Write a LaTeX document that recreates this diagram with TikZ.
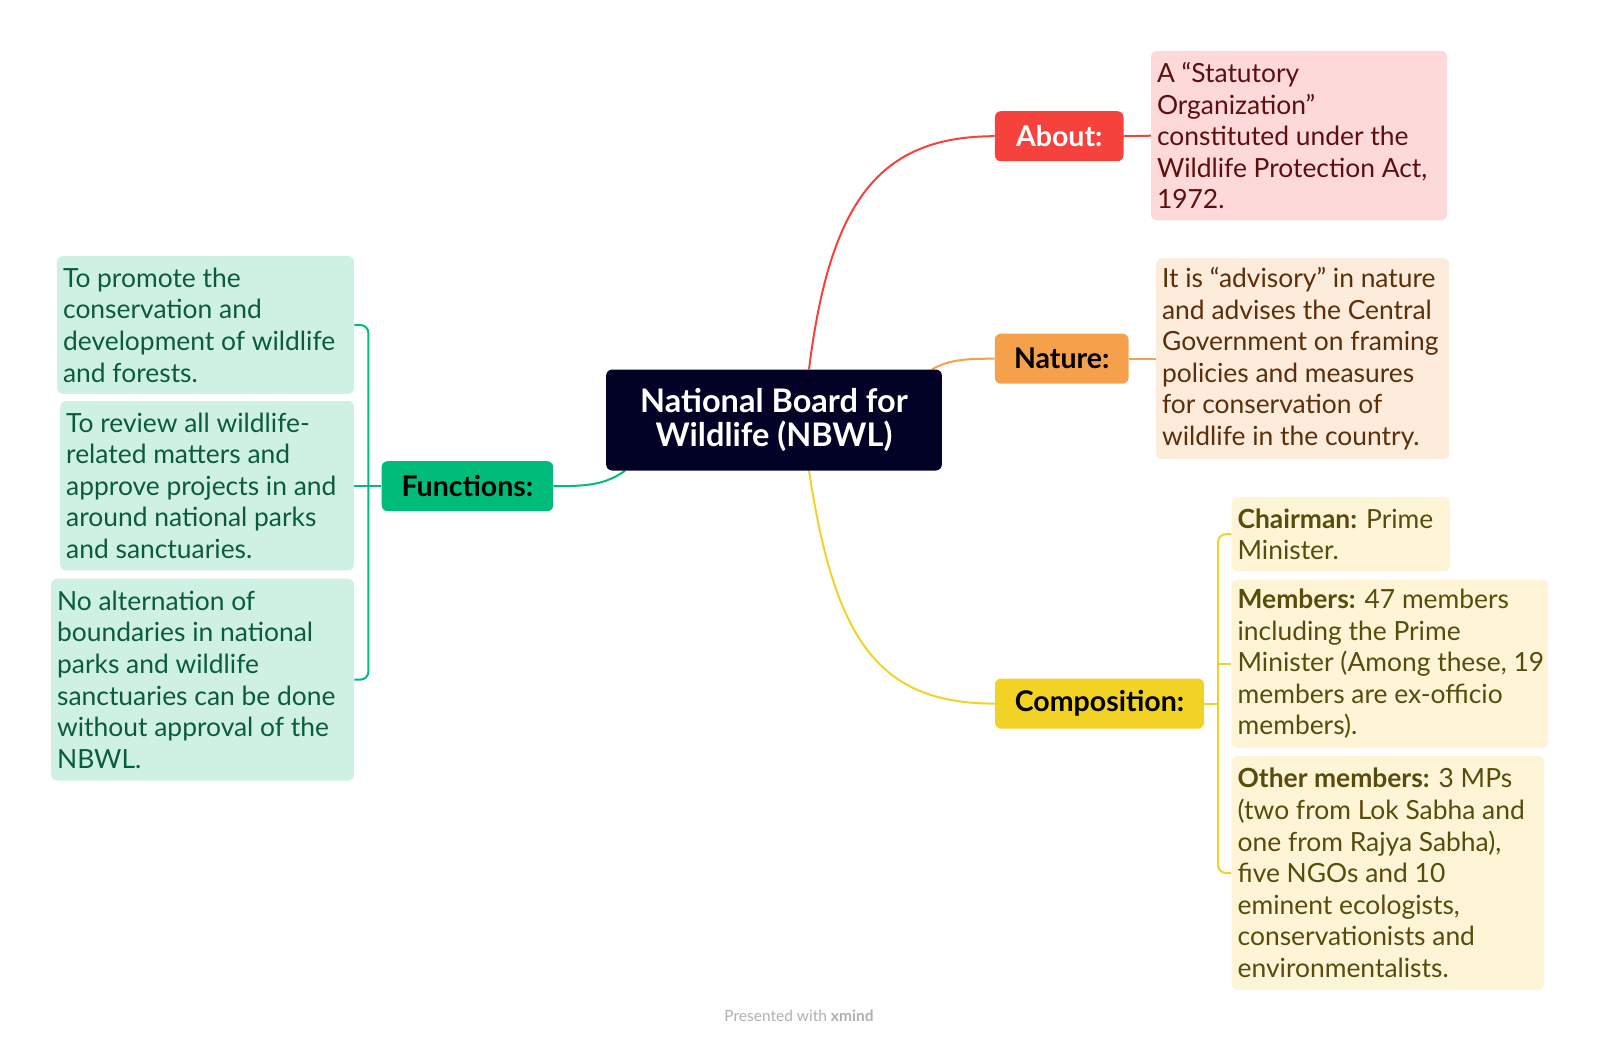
\documentclass[tikz,border=0pt]{standalone}
\usepackage{fontspec}
\setmainfont{Lato}
\usetikzlibrary{backgrounds}
\definecolor{cnavy}{HTML}{020226}
\definecolor{cred}{HTML}{F5423C}
\definecolor{cpink}{HTML}{FDD9D9}
\definecolor{credt}{HTML}{5C0F0F}
\definecolor{corange}{HTML}{F5A14B}
\definecolor{cpeach}{HTML}{FDEBDC}
\definecolor{corat}{HTML}{5C2E0A}
\definecolor{cyellow}{HTML}{F2D224}
\definecolor{clyellow}{HTML}{FDF5D6}
\definecolor{cyelt}{HTML}{5A4A0C}
\definecolor{cgreen}{HTML}{00BC7A}
\definecolor{cmint}{HTML}{CEF1E4}
\definecolor{cgreent}{HTML}{0A5C3C}
\definecolor{cgray}{HTML}{B0B0B0}
\begin{document}
\begin{tikzpicture}[x=1pt,y=-1pt,
  box/.style={rounded corners=6pt, inner sep=0pt, draw=none},
  lbl/.style={box, minimum height=50pt, font=\fontsize{28.5}{32}\selectfont\bfseries},
  body/.style={anchor=west, inner sep=0pt, align=left, font=\fontsize{26.4}{31.6}\selectfont},
  link/.style={line width=2pt},
  bracket/.style={line width=2pt, rounded corners=8pt}]
\useasboundingbox (0,0) rectangle (1600,1042);

% central
\node[box, fill=cnavy, minimum width=335.7pt, minimum height=101pt, text=white,
      font=\fontsize{32.5}{34.7}\selectfont\bfseries, align=center] (c) at (774,420)
      {National Board for\\Wildlife (NBWL)};

% labels
\node[lbl, fill=cred, text=white, minimum width=128.6pt] (about) at (1059.2,136.2) {About:};
\node[lbl, fill=corange, text=black, minimum width=133.7pt] (nature) at (1061.7,358.7) {Nature:};
\node[lbl, fill=cyellow, text=black, minimum width=209pt] (comp) at (1099.5,703.6) {Composition:};
\node[lbl, fill=cgreen, text=black, minimum width=171.5pt] (func) at (467.4,486.2) {Functions:};

% about / nature boxes
\node[box, fill=cpink, minimum width=296pt, minimum height=169.4pt] (aboutb) at (1299,135.7) {};
\node[body, text=credt] (aboutt) at ([xshift=6pt]aboutb.west)
  {A “Statutory\\Organization”\\constituted under the\\Wildlife Protection Act,\\1972.};
\node[box, fill=cpeach, minimum width=293pt, minimum height=201pt] (natureb) at (1302.6,358.7) {};
\node[body, text=corat] (naturet) at ([xshift=6pt]natureb.west)
  {It is “advisory” in nature\\and advises the Central\\Government on framing\\policies and measures\\for conservation of\\wildlife in the country.};

% composition boxes
\node[box, fill=clyellow, minimum width=218.4pt, minimum height=74.5pt] (chair) at (1340.8,534.2) {};
\node[body, text=cyelt] (chairt) at ([xshift=6pt]chair.west)
  {\textbf{Chairman:} Prime\\Minister.};
\node[box, fill=clyellow, minimum width=316.4pt, minimum height=168.4pt] (memb) at (1389.8,663.8) {};
\node[body, text=cyelt] (membt) at ([xshift=6pt]memb.west)
  {\textbf{Members:} 47 members\\including the Prime\\Minister (Among these, 19\\members are ex-officio\\members).};
\node[box, fill=clyellow, minimum width=312.3pt, minimum height=233.7pt] (other) at (1387.8,873) {};
\node[body, text=cyelt] (othert) at ([xshift=6pt]other.west)
  {\textbf{Other members:} 3 MPs\\(two from Lok Sabha and\\one from Rajya Sabha),\\five NGOs and 10\\eminent ecologists,\\conservationists and\\environmentalists.};

% function boxes
\node[box, fill=cmint, minimum width=297pt, minimum height=137.8pt] (f1) at (205.6,325) {};
\node[body, text=cgreent] (f1t) at ([xshift=6pt]f1.west)
  {To promote the\\conservation and\\development of wildlife\\and forests.};
\node[box, fill=cmint, minimum width=294pt, minimum height=169.4pt] (f2) at (207.2,485.7) {};
\node[body, text=cgreent] (f2t) at ([xshift=6pt]f2.west)
  {To review all wildlife-\\related matters and\\approve projects in and\\around national parks\\and sanctuaries.};
\node[box, fill=cmint, minimum width=303pt, minimum height=202pt] (f3) at (202.6,679.6) {};
\node[body, text=cgreent] (f3t) at ([xshift=6pt]f3.west)
  {No alternation of\\boundaries in national\\parks and wildlife\\sanctuaries can be done\\without approval of the\\NBWL.};

% footer
\node[font=\fontsize{15.5}{17}\selectfont, text=cgray] (foot) at (799,1016) {Presented with \textbf{xmind}};

\coordinate (cb) at (1218,703.6);
\coordinate (fb) at (368.4,486.2);

\begin{pgfonlayer}{background}
\draw[link, draw=cred] ([xshift=35pt]c.north) .. controls +(21,-169) and +(-115,0) .. (about.west);
\draw[link, draw=cyellow] ([xshift=35pt]c.south) .. controls +(26,172) and +(-115,0) .. (comp.west);
\draw[link, draw=corange] ([xshift=158pt]c.north) .. controls +(18,-10) and +(-28,0) .. (nature.west);
\draw[link, draw=cgreen] ([xshift=-149pt]c.south) .. controls +(-20,14) and +(35,0) .. (func.east);
\draw[link, draw=cred] (about.east) -- (aboutb.west);
\draw[link, draw=corange] (nature.east) -- (natureb.west);
\draw[link, draw=cyellow] (comp.east) -- (cb);
\draw[bracket, draw=cyellow] (chair.west) -- (chair.west -| cb) -- (other.west -| cb) -- (other.west);
\draw[link, draw=cyellow] (memb.west -| cb) -- (memb.west);
\draw[link, draw=cgreen] (func.west) -- (fb);
\draw[bracket, draw=cgreen] (f1.east) -- (f1.east -| fb) -- (f3.east -| fb) -- (f3.east);
\draw[link, draw=cgreen] (f2.east) -- (f2.east -| fb);
\end{pgfonlayer}
\end{tikzpicture}
\end{document}
